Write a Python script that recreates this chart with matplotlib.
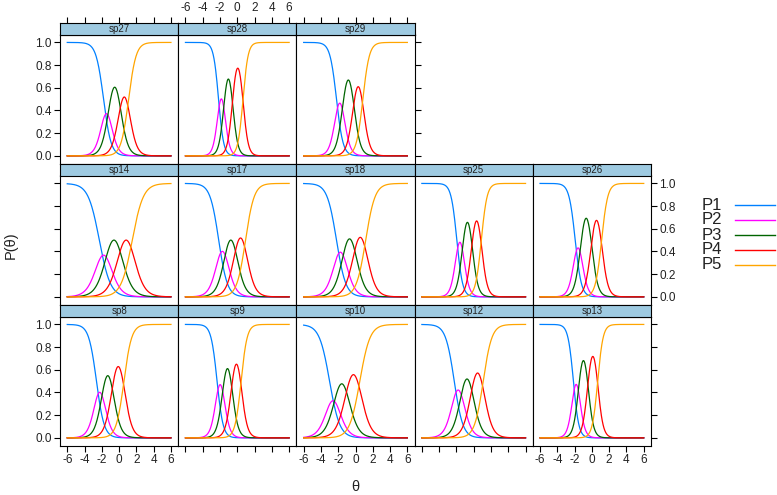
import numpy as np
import matplotlib
matplotlib.use("Agg")
from matplotlib import pyplot as plt
from matplotlib.lines import Line2D

plt.rcParams['font.family'] = ['Liberation Sans', 'DejaVu Sans']
plt.rcParams['axes.unicode_minus'] = False

# graded response model item parameters
items = ["sp27", "sp28", "sp29",
         "sp14", "sp17", "sp18", "sp25", "sp26",
         "sp8", "sp9", "sp10", "sp12", "sp13"]
slope = [2.3, 3.4, 2.65, 1.56, 2.0, 1.85, 3.0, 2.8, 2.24, 2.87, 1.7, 2.0, 3.2]
b1 = [-1.8, -2.17, -2.2, -2.29, -2.15, -2.2, -1.95, -1.93, -2.62, -2.34, -3.0, -2.25, -2.14]
b2 = [-1.12, -1.52, -1.44, -1.30, -1.3, -1.3, -1.25, -1.27, -1.86, -1.63, -2.2, -1.35, -1.5]
b3 = [0.1, -0.55, -0.22, 0.11, -0.2, -0.08, -0.2, -0.05, -0.76, -0.64, -0.98, -0.2, -0.46]
b4 = [1.1, 0.66, 0.85, 1.52, 0.95, 1.18, 0.88, 1.12, 0.56, 0.44, 0.5, 1.1, 0.67]
row_sizes = [3, 5, 5]
cat_labels = ["P1", "P2", "P3", "P4", "P5"]
cat_colors = ["#0080ff", "#ff00ff", "#006400", "#ff0000", "#ffa500"]
x_ticks = [-6, -4, -2, 0, 2, 4, 6]
y_ticks = [0.0, 0.2, 0.4, 0.6, 0.8, 1.0]

theta = np.linspace(-6, 6, 241)

W, H = 777, 495
fig = plt.figure(figsize=(W / 100, H / 100), dpi=100)

col_x = [60, 178.2, 296.4, 414.6, 532.8]
pw = 118.2
row_top = [22.7, 163.7, 304.7]
sh = 11.8
ph = 129.3
strip_bg = "#9ecae1"
txt_col = "#222222"


def grm_probs(a, bs):
    star = [np.ones_like(theta)]
    for b in bs:
        star.append(1 / (1 + np.exp(-a * (theta - b))))
    star.append(np.zeros_like(theta))
    return [star[k] - star[k + 1] for k in range(len(bs) + 1)]


idx = 0
for r, n in enumerate(row_sizes):
    for c in range(n):
        x0 = col_x[c]
        top = row_top[r]
        ax = fig.add_axes([x0 / W, 1 - (top + sh + ph) / H, pw / W, ph / H])
        st = fig.add_axes([x0 / W, 1 - (top + sh) / H, pw / W, sh / H])

        probs = grm_probs(slope[idx], [b1[idx], b2[idx], b3[idx], b4[idx]])
        for p, col in zip(probs, cat_colors):
            ax.plot(theta, p, color=col, lw=0.9)
        ax.set_xlim(-6.84, 6.84)
        ax.set_ylim(-0.07, 1.07)
        ax.set_xticks(x_ticks)
        ax.set_yticks(y_ticks)
        ax.set_yticklabels(["0.0", "0.2", "0.4", "0.6", "0.8", "1.0"])

        last = c == n - 1
        ax.tick_params(axis='both', direction='out', length=4, width=0.8,
                       color='black', labelcolor=txt_col, labelsize=8.5, pad=2)
        ax.tick_params(axis='x', bottom=(r == 2), labelbottom=(r == 2 and c % 2 == 0),
                       top=False, labeltop=False)
        ax.tick_params(axis='y', left=(c == 0), labelleft=(c == 0 and r != 1),
                       right=last, labelright=(last and r == 1))
        for s in ax.spines.values():
            s.set_color('black')
            s.set_linewidth(0.8)

        st.set_facecolor(strip_bg)
        st.set_xlim(-6.84, 6.84)
        st.set_xticks(x_ticks)
        st.set_yticks([])
        st.tick_params(axis='x', direction='out', length=4, width=0.8, color='black',
                       labelcolor=txt_col, labelsize=8.5, pad=2,
                       bottom=False, labelbottom=False,
                       top=(r == 0), labeltop=(r == 0 and c == 1))
        for s in st.spines.values():
            s.set_color('black')
            s.set_linewidth(0.8)
        st.text(0.5, 0.45, items[idx], transform=st.transAxes, ha='center', va='center',
                fontsize=7, color=txt_col)
        idx += 1

# legend
leg_y = [205, 220, 235, 249.5, 264.5]
for lab, col, y in zip(cat_labels, cat_colors, leg_y):
    fig.text(702 / W, 1 - y / H, lab, ha='left', va='center', fontsize=12, color=txt_col)
    fig.add_artist(Line2D([735 / W, 775 / W], [1 - y / H, 1 - y / H],
                          transform=fig.transFigure, color=col, lw=1))

fig.text(11 / W, 1 - 245 / H, "P(\u03b8)", rotation=90, ha='center', va='center',
         fontsize=10.5, color=txt_col)
fig.text(355 / W, 1 - 487 / H, "\u03b8", ha='center', va='center',
         fontsize=10.5, color=txt_col)

fig.savefig("out.png", dpi=100)
